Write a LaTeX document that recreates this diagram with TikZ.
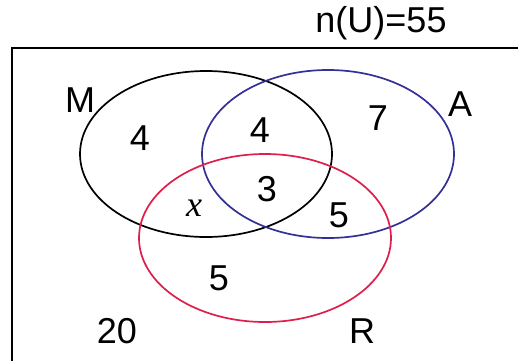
\documentclass[tikz,border=0pt]{standalone}
\usepackage{fontspec}
\setmainfont{Liberation Sans}
\newfontfamily\vennserif{Liberation Serif}
\usepackage{tikz}
\usepackage{xcolor}
\definecolor{vennblue}{RGB}{52,48,150}
\definecolor{vennred}{RGB}{222,30,75}

\begin{document}
\begin{tikzpicture}[x=1pt,y=1pt,
    lbl/.style={font=\fontsize{36}{42}\selectfont,inner sep=0pt}]
    \useasboundingbox (0,0) rectangle (518,360);
    \draw[line width=2.6pt] (12,312) rectangle (540,-20);
    \draw[line width=1.7pt] (206,206) ellipse (126pt and 83pt);
    \draw[line width=1.7pt,vennblue] (328,206) ellipse (126pt and 84pt);
    \draw[line width=1.7pt,vennred] (265,122) ellipse (126pt and 84pt);
    \node[lbl] (nU) at (381,337) {n(U)=55};
    \node[lbl] (setM) at (80,260) {M}; \node[lbl] (setA) at (460,256) {A};
    \node[lbl] (setR) at (362,29) {R};
    \node[lbl] (onlyM) at (140,222) {4}; \node[lbl] (MA) at (260,230) {4};
    \node[lbl] (onlyA) at (378,242) {7};
    \node[lbl] (MR) at (194,152) {\vennserif\itshape x}; \node[lbl] (MAR) at (267,171) {3};
    \node[lbl] (AR) at (339,145) {5}; \node[lbl] (onlyR) at (219,82) {5};
    \node[lbl] (none) at (117,29) {20};
\end{tikzpicture}
\end{document}
